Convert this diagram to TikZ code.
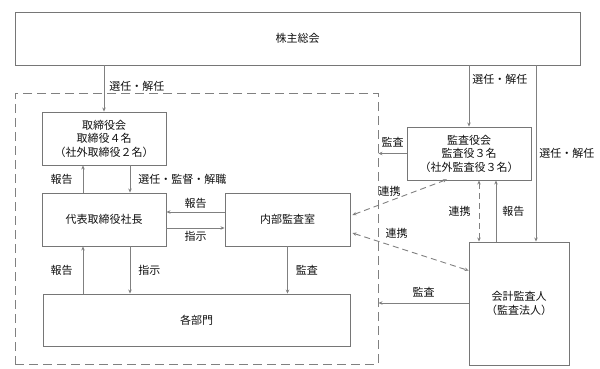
\documentclass[tikz,border=0pt]{standalone}
\usepackage{fontspec}
\setmainfont{Noto Sans CJK JP}
\usetikzlibrary{arrows.meta,positioning,calc}
\definecolor{boxgray}{RGB}{118,118,118}
\definecolor{linegray}{RGB}{128,128,128}
\definecolor{txtgray}{RGB}{15,15,15}
\tikzset{
  orgbox/.style={draw=boxgray, line width=0.9pt, inner sep=0pt, align=center,
      text=txtgray, font=\fontsize{11}{13.5}\selectfont},
  grpbox/.style={draw=linegray, line width=0.9pt, dash pattern=on 9pt off 5pt},
  conn/.style={-{Stealth[length=4pt,width=3.5pt]}, linegray, line width=0.9pt},
  cconn/.style={{Stealth[length=4pt,width=3.5pt]}-{Stealth[length=4pt,width=3.5pt]},
      linegray, line width=0.9pt, dash pattern=on 6pt off 4pt},
  lab/.style={text=txtgray, font=\fontsize{11}{13}\selectfont, inner sep=2pt},
}

\begin{document}
\begin{tikzpicture}[x=1pt, y=-1pt]
  \useasboundingbox (0,0) rectangle (600,369);
  % boxes
  \node[orgbox, minimum width=565pt, minimum height=53pt] (soukai) at (297.5,38.5) {株主総会};
  \node[grpbox, minimum width=363pt, minimum height=271pt, inner sep=0pt] (grp) at (196.5,228.5) {};
  \node[orgbox, minimum width=124pt, minimum height=53pt] (torishimari) at (104,138.5)
      {取締役会\\取締役４名\\（社外取締役２名）};
  \node[orgbox, minimum width=124pt, minimum height=53pt] (shacho) at (104,219.5) {代表取締役社長};
  \node[orgbox, minimum width=125pt, minimum height=53pt] (naibu) at (287.5,219.5) {内部監査室};
  \node[orgbox, minimum width=307pt, minimum height=52pt] (bumon) at (196.5,320) {各部門};
  \node[orgbox, minimum width=124pt, minimum height=53pt] (kansayaku) at (469,153.5)
      {監査役会\\監査役３名\\（社外監査役３名）};
  \node[orgbox, minimum width=100pt, minimum height=123pt] (kaikei) at (519,303.5)
      {会計監査人\\（監査法人）};

  % shareholders
  \draw[conn] (soukai.south -| torishimari) -- node[lab, right=3pt, pos=0.45] {選任・解任} (torishimari.north);
  \draw[conn] (soukai.south -| kansayaku) -- node[lab, right=1pt, pos=0.22] {選任・解任} (kansayaku.north);
  \coordinate (kk) at ($(kaikei.north)+(17,0)$);
  \draw[conn] (soukai.south -| kk) -- node[lab, right=1pt] {選任・解任} (kk);

  % board and president
  \draw[conn] ($(shacho.north)+(-21,0)$) -- node[lab, left=8pt] {報告} ($(torishimari.south)+(-21,0)$);
  \draw[conn] ($(torishimari.south)+(26,0)$) -- node[lab, right=6pt] {選任・監督・解職} ($(shacho.north)+(26,0)$);
  \draw[conn] ($(naibu.west)+(0,-7.5)$) -- node[lab, above=1pt] {報告} ($(shacho.east)+(0,-7.5)$);
  \draw[conn] ($(shacho.east)+(0,8.5)$) -- node[lab, below=1pt] {指示} ($(naibu.west)+(0,8.5)$);
  \draw[conn] ($(bumon.north -| shacho)+(-21,0)$) -- node[lab, left=8pt] {報告} ($(shacho.south)+(-21,0)$);
  \draw[conn] ($(shacho.south)+(26,0)$) -- node[lab, right=6pt] {指示} ($(bumon.north -| shacho)+(26,0)$);
  \draw[conn] (naibu.south) -- node[lab, right=6pt] {監査} (bumon.north -| naibu);

  % auditors
  \draw[conn] (kansayaku.west) -- node[lab, above=4pt] {監査} (kansayaku.west -| grp.east);
  \draw[conn] (kaikei.west |- 0,303) -- node[lab, above=3pt] {監査} (grp.east |- 0,303);
  \coordinate (hk) at ($(kaikei.north)+(-23,0)$);
  \draw[conn] (hk) -- node[lab, right=4pt] {報告} (kansayaku.south -| hk);
  \draw[cconn] ($(kansayaku.south)+(10,0)$) -- node[lab, left=6pt] {連携} ($(kaikei.north)+(-40,0)$);
  \draw[cconn] ($(naibu.east)+(2,-4.5)$) -- node[lab, pos=0.45, above left=0pt and -8pt] {連携} ($(kansayaku.south)+(-22,-1)$);
  \draw[cconn] ($(naibu.east)+(2,13.5)$) -- node[lab, pos=0.38, above=6pt] {連携} ($(kaikei.west)+(0,-33)$);
\end{tikzpicture}
\end{document}
